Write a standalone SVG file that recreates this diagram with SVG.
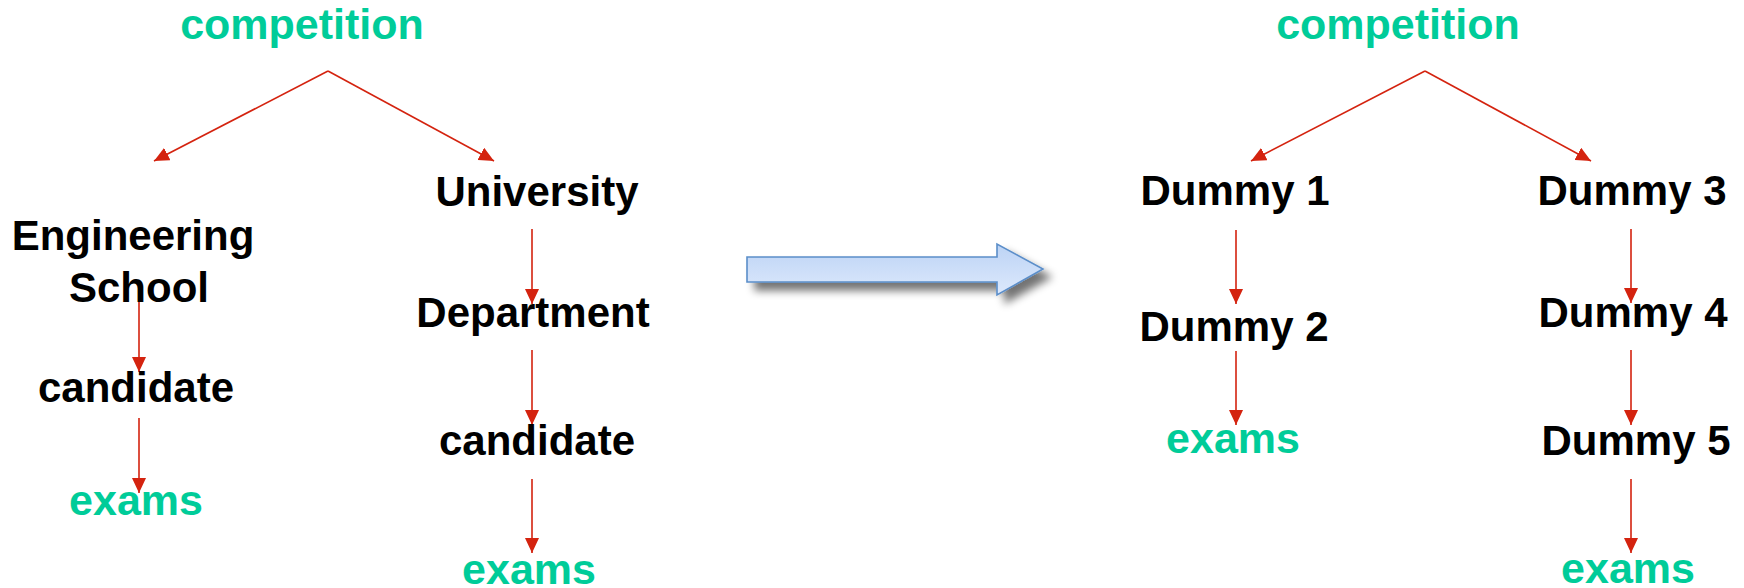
<svg xmlns="http://www.w3.org/2000/svg" width="1744" height="588" viewBox="0 0 1744 588">
<defs>
<style>
.t{font-family:"Liberation Sans",Arial,Helvetica,sans-serif;font-weight:bold;text-anchor:middle}
.k{fill:#000;font-size:42px}
.g{fill:#00cc99;font-size:43px}
.c{stroke:#d4230f;stroke-width:1.6;fill:none;marker-end:url(#ah)}
</style>
<marker id="ah" viewBox="0 0 15 14" refX="15" refY="7" markerWidth="15" markerHeight="14" markerUnits="userSpaceOnUse" orient="auto">
<path d="M0,0 L15,7 L0,14 z" fill="#d4230f"/>
</marker>
<linearGradient id="bg" x1="0" y1="0" x2="0" y2="1">
<stop offset="0" stop-color="#bcd3f5"/>
<stop offset="1" stop-color="#dde9fc"/>
</linearGradient>
<filter id="sh" x="-10%" y="-50%" width="130%" height="220%">
<feGaussianBlur in="SourceAlpha" stdDeviation="4"/>
<feOffset dx="8" dy="8" result="b"/>
<feComponentTransfer in="b" result="s"><feFuncA type="linear" slope="0.55"/></feComponentTransfer>
<feMerge><feMergeNode in="s"/><feMergeNode in="SourceGraphic"/></feMerge>
</filter>
</defs>
<rect width="1744" height="588" fill="#fff"/>

<g id="connectors">
<path class="c" d="M328,71 L154,161"/>
<path class="c" d="M328,71 L494,161"/>
<path class="c" d="M139,298 L139,372"/>
<path class="c" d="M139,418 L139,493"/>
<path class="c" d="M532,229 L532,304"/>
<path class="c" d="M532,350 L532,425"/>
<path class="c" d="M532,479 L532,553"/>
<path class="c" d="M1425,71 L1251,161"/>
<path class="c" d="M1425,71 L1591,161"/>
<path class="c" d="M1236,230 L1236,304"/>
<path class="c" d="M1236,351 L1236,425"/>
<path class="c" d="M1631,229 L1631,303"/>
<path class="c" d="M1631,350 L1631,425"/>
<path class="c" d="M1631,479 L1631,553"/>
</g>

<g id="transform-arrow" filter="url(#sh)">
<path d="M747,257 L997,257 L997,244 L1043,269 L997,295 L997,282 L747,282 Z" fill="url(#bg)" stroke="#5b8ec9" stroke-width="1.6"/>
</g>

<g id="l-competition"><text class="t g" x="302" y="39">competition</text></g>
<g id="l-engineering-school">
<text class="t k" x="133" y="250">Engineering</text>
<text class="t k" x="139" y="302">School</text>
</g>
<g id="l-candidate1"><text class="t k" x="136" y="402">candidate</text></g>
<g id="l-exams1"><text class="t g" x="136" y="515">exams</text></g>
<g id="l-university"><text class="t k" x="537" y="206">University</text></g>
<g id="l-department"><text class="t k" x="533" y="327">Department</text></g>
<g id="l-candidate2"><text class="t k" x="537" y="455">candidate</text></g>
<g id="l-exams2"><text class="t g" x="529" y="584">exams</text></g>

<g id="r-competition"><text class="t g" x="1398" y="39">competition</text></g>
<g id="r-dummy1"><text class="t k" x="1235" y="205">Dummy 1</text></g>
<g id="r-dummy2"><text class="t k" x="1234" y="341">Dummy 2</text></g>
<g id="r-exams1"><text class="t g" x="1233" y="453">exams</text></g>
<g id="r-dummy3"><text class="t k" x="1632" y="205">Dummy 3</text></g>
<g id="r-dummy4"><text class="t k" x="1633" y="327">Dummy 4</text></g>
<g id="r-dummy5"><text class="t k" x="1636" y="455">Dummy 5</text></g>
<g id="r-exams2"><text class="t g" x="1628" y="583">exams</text></g>
</svg>
